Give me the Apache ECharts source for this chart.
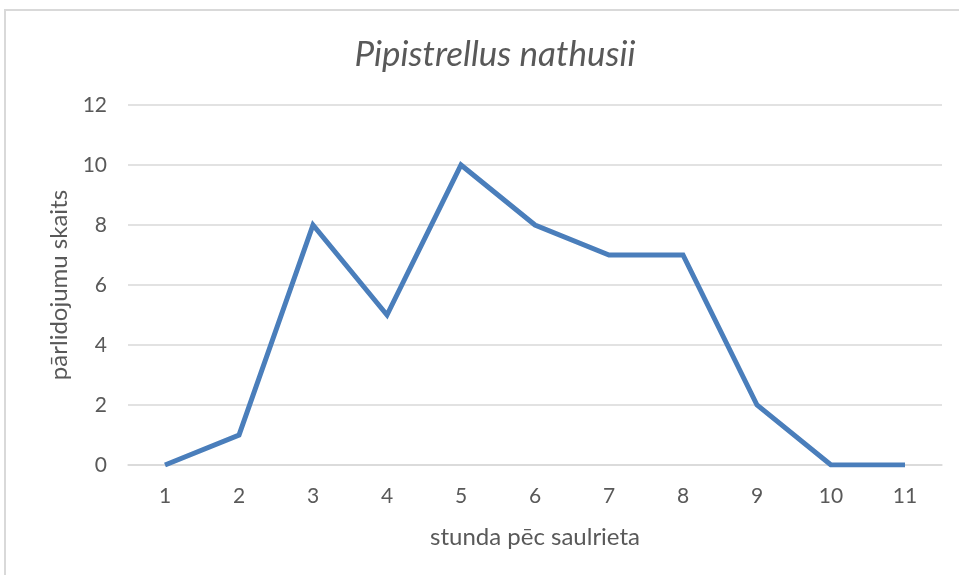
<!DOCTYPE html>
<html>
<head>
<meta charset="utf-8">
<script src="https://cdn.jsdelivr.net/npm/echarts@6/dist/echarts.min.js"></script>
<style>
  html, body { margin: 0; padding: 0; background: #fff; }
  #chart { width: 959px; height: 575px; }
</style>
</head>
<body>
<div id="chart"></div>
<script>
var hours = ['1', '2', '3', '4', '5', '6', '7', '8', '9', '10', '11'];
var passes = [0, 1, 8, 5, 10, 8, 7, 7, 2, 0, 0];

var textGray = '#595959';
var chart = echarts.init(document.getElementById('chart'));
chart.setOption({
    backgroundColor: '#fff',
    animation: false,
    title: {
        text: 'Pipistrellus nathusii',
        left: 490,
        top: 32,
        textAlign: 'center',
        textStyle: {
            fontFamily: 'Lato',
            fontStyle: 'italic',
            fontWeight: 'normal',
            fontSize: 35,
            color: textGray
        }
    },
    graphic: [
        {
            type: 'rect',
            shape: { x: 5, y: 10, width: 970, height: 600 },
            style: { fill: 'none', stroke: '#d9d9d9', lineWidth: 2 },
            silent: true
        }
    ],
    grid: {
        left: 128,
        right: 17,
        top: 105,
        bottom: 110
    },
    xAxis: {
        type: 'category',
        data: hours,
        boundaryGap: true,
        name: 'stunda pēc saulrieta',
        nameLocation: 'middle',
        nameGap: 60,
        nameTextStyle: { fontFamily: 'Lato', fontSize: 24, color: textGray },
        axisLine: { lineStyle: { color: '#d9d9d9', width: 1.5 } },
        axisTick: { show: false },
        axisLabel: { fontFamily: 'Lato', fontSize: 21, color: textGray, margin: 21 }
    },
    yAxis: {
        type: 'value',
        min: 0,
        max: 12,
        interval: 2,
        name: 'pārlidojumu skaits',
        nameLocation: 'middle',
        nameGap: 56,
        nameTextStyle: { fontFamily: 'Lato', fontSize: 24, color: textGray },
        axisLine: { show: false },
        axisTick: { show: false },
        axisLabel: { fontFamily: 'Lato', fontSize: 21, color: textGray, margin: 21 },
        splitLine: { lineStyle: { color: '#d9d9d9', width: 1.5 } }
    },
    series: [
        {
            type: 'line',
            data: passes,
            showSymbol: false,
            lineStyle: { color: '#4a7ebb', width: 5, join: 'miter' },
            itemStyle: { color: '#4a7ebb' }
        }
    ]
});
</script>
</body>
</html>
